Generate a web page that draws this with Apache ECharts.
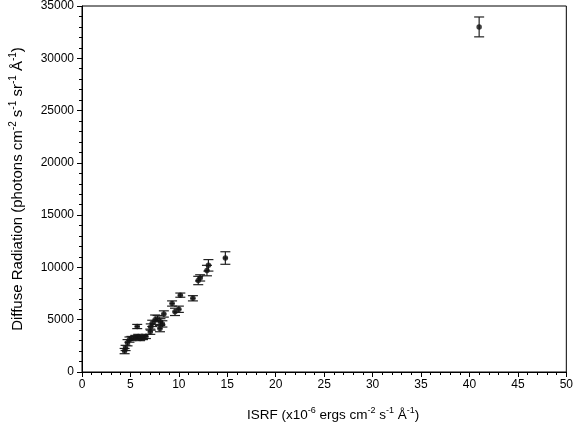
<!DOCTYPE html>
<html>
<head>
<meta charset="utf-8">
<script src="https://cdn.jsdelivr.net/npm/echarts@6/dist/echarts.min.js"></script>
<style>html,body{margin:0;padding:0;background:#fff}#c{width:576px;height:433px}</style>
</head>
<body>
<div id="c"></div>
<script>
const isrf =       [4.4, 4.5, 4.7, 4.9, 5.1, 5.7, 5.5, 5.8, 6.0, 6.3, 6.6, 7.05, 7.1, 7.25, 7.55, 7.8, 8.1, 8.3, 8.05, 8.45, 9.3, 9.6, 10.0, 10.15, 11.45, 12.0, 12.2, 12.9, 13.05, 14.8, 41.0];
const isrfErr =    [0.25, 0.25, 0.25, 0.25, 0.25, 0.25, 0.25, 0.25, 0.25, 0.25, 0.25, 0.25, 0.25, 0.25, 0.25, 0.25, 0.25, 0.25, 0.25, 0.25, 0.25, 0.25, 0.25, 0.25, 0.25, 0.25, 0.25, 0.25, 0.25, 0.25, 0.0];
const diffuse =    [2000, 2300, 2800, 3100, 3200, 4350, 3300, 3400, 3200, 3300, 3400, 3850, 4300, 4650, 5000, 5100, 4800, 4600, 4150, 5550, 6550, 5750, 6000, 7350, 7050, 8750, 9000, 9700, 10200, 10900, 33000];
const diffuseErr = [250, 250, 300, 250, 200, 200, 200, 200, 200, 200, 200, 250, 300, 300, 450, 300, 300, 300, 300, 300, 250, 350, 300, 200, 250, 400, 300, 500, 550, 600, 950];
const xTicks = [0, 5, 10, 15, 20, 25, 30, 35, 40, 45, 50];
const yTicks = [0, 5000, 10000, 15000, 20000, 25000, 30000, 35000];

const pts = isrf.map((x, i) => [x, diffuse[i], diffuseErr[i], isrfErr[i]]);

const chart = echarts.init(document.getElementById('c'));
const font = 'Liberation Sans, Arial, sans-serif';
const richX = {
  n: {fontSize: 13.5, fontFamily: font, color: '#000', lineHeight: 18},
  s: {fontSize: 9, fontFamily: font, color: '#000', verticalAlign: 'top', lineHeight: 18}
};
const richY = {
  n: {fontSize: 15, fontFamily: font, color: '#000', lineHeight: 20},
  s: {fontSize: 10, fontFamily: font, color: '#000', verticalAlign: 'top', lineHeight: 20}
};
chart.setOption({
  animation: false,
  grid: {left: 81, right: 7, top: 6, bottom: 61, show: true, borderColor: '#000', borderWidth: 1, backgroundColor: 'transparent'},
  xAxis: {
    type: 'value', min: xTicks[0], max: xTicks[xTicks.length - 1], interval: 5,
    name: '{n|ISRF (x10}{s|-6}{n| ergs cm}{s|-2}{n| s}{s|-1}{n| Å}{s|-1}{n|)}',
    nameLocation: 'middle', nameGap: 34,
    nameTextStyle: {rich: richX, padding: [0, 0, 0, 18]},
    axisLine: {lineStyle: {color: '#000', width: 1}},
    axisTick: {show: true, length: 5, lineStyle: {color: '#000'}},
    minorTick: {show: true, splitNumber: 5, length: 3, lineStyle: {color: '#000'}},
    splitLine: {show: false},
    axisLabel: {color: '#000', fontSize: 12, fontFamily: font, margin: 7, formatter: v => String(v)}
  },
  yAxis: {
    type: 'value', min: yTicks[0], max: yTicks[yTicks.length - 1], interval: 5000,
    name: '{n|Diffuse Radiation (photons cm}{s|-2}{n| s}{s|-1}{n| sr}{s|-1}{n| Å}{s|-1}{n|)}',
    nameLocation: 'middle', nameGap: 54, nameRotate: 90,
    nameTextStyle: {rich: richY},
    axisLine: {show: true, lineStyle: {color: '#000', width: 1}},
    axisTick: {show: true, length: 5, lineStyle: {color: '#000'}},
    minorTick: {show: true, splitNumber: 5, length: 3, lineStyle: {color: '#000'}},
    splitLine: {show: false},
    axisLabel: {color: '#000', fontSize: 12, fontFamily: font, margin: 8, formatter: v => String(v)}
  },
  series: [
    {
      type: 'custom',
      data: pts,
      encode: {x: 0, y: 1},
      renderItem: function (params, api) {
        const x = api.value(0), y = api.value(1), ey = api.value(2), ex = api.value(3);
        const top = api.coord([x, y + ey]);
        const bot = api.coord([x, y - ey]);
        const l = api.coord([x - ex, y]);
        const r = api.coord([x + ex, y]);
        const cap = 5;
        const st = {stroke: '#222', lineWidth: 1.2};
        const children = [
          {type: 'line', shape: {x1: top[0], y1: top[1], x2: bot[0], y2: bot[1]}, style: st},
          {type: 'line', shape: {x1: top[0] - cap, y1: top[1], x2: top[0] + cap, y2: top[1]}, style: st},
          {type: 'line', shape: {x1: bot[0] - cap, y1: bot[1], x2: bot[0] + cap, y2: bot[1]}, style: st}
        ];
        if (ex > 0) {
          children.push({type: 'line', shape: {x1: l[0], y1: l[1], x2: r[0], y2: r[1]}, style: st});
        }
        return {type: 'group', children: children};
      },
      z: 2
    },
    {
      type: 'scatter',
      data: pts.map(p => [p[0], p[1]]),
      symbol: 'circle', symbolSize: 5.5,
      itemStyle: {color: '#111'},
      z: 3
    }
  ]
});
</script>
</body>
</html>
